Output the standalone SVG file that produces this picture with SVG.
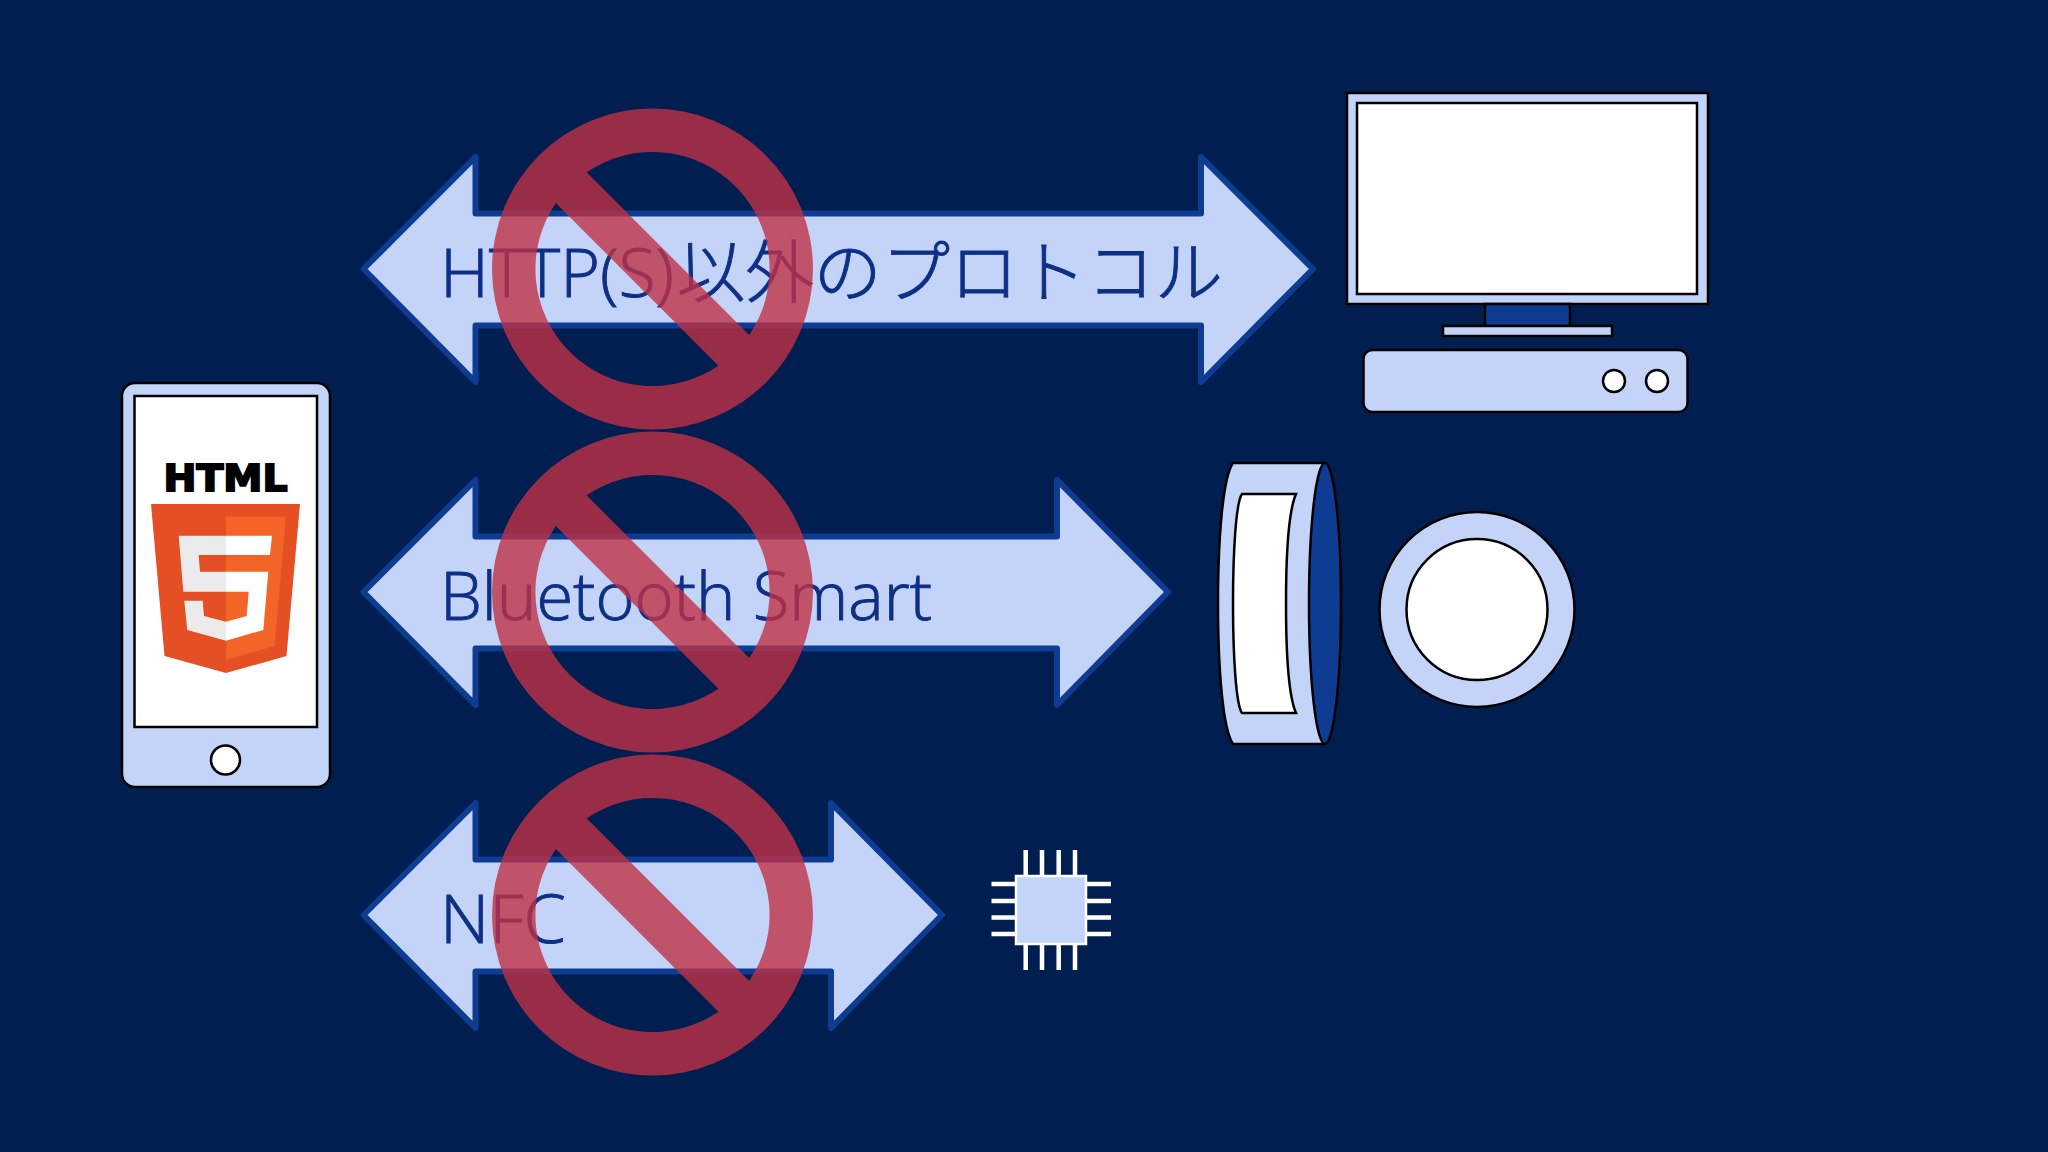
<svg xmlns="http://www.w3.org/2000/svg" width="2048" height="1152" viewBox="0 0 2048 1152">
<style>
.ar{fill:#c3d4f8;stroke:#0d3c92;stroke-width:6;stroke-linejoin:round}
.lb{font-family:"Open Sans","Noto Sans CJK JP",sans-serif;font-size:66px;font-weight:300;fill:#0e2f86;stroke:#0e2f86;stroke-width:.9}
.jp{font-family:"Noto Sans CJK JP",sans-serif;font-size:68px;font-weight:300;fill:#0e2f86;stroke:#0e2f86;stroke-width:.9}
.k{stroke:#000;stroke-width:2.5}
.l{fill:#c3d4f8}
.w{fill:#fff}
.b{fill:#0d3c92}
.pin{stroke:#fff;stroke-width:4.5;fill:none}
.no{fill:#bf3146;opacity:.8}
</style>
<defs>
<path id="no" fill-rule="evenodd" d="M160.500 0A160.500 160.500 0 1 1-160.500 0A160.500 160.500 0 1 1 160.500 0ZM-65.900 -96.700L96.700 65.900A117 117 0 0 0 -65.900 -96.700ZM-96.700 -65.900L65.900 96.700A117 117 0 0 1 -96.700 -65.900Z"/>
</defs>
<rect id="bg" width="2048" height="1152" fill="#001e50"/>
<g id="connectors">
<path id="c1" class="ar" d="M363.500 269L475.500 157V213.500H1201V157L1313 269L1201 382V325.500H475.500V382Z"/>
<path id="c2" class="ar" d="M363.500 592L475.500 480V536.500H1057V480L1168 592L1057 705V648.500H475.500V705Z"/>
<path id="c3" class="ar" d="M363.500 915L475.500 803V859.500H831V803L942 915L831 1028V971.500H475.500V1028Z"/>
<text class="lb" x="440" y="297" textLength="234" lengthAdjust="spacingAndGlyphs">HTTP(S)</text>
<text class="jp" x="677" y="297" textLength="546" lengthAdjust="spacingAndGlyphs">以外のプロトコル</text>
<text class="lb" x="440" y="620" textLength="492" lengthAdjust="spacingAndGlyphs">Bluetooth Smart</text>
<text class="lb" x="440" y="943" textLength="126" lengthAdjust="spacingAndGlyphs">NFC</text>
</g>
<g id="prohibited">
<use href="#no" class="no" x="652.500" y="269"/>
<use href="#no" class="no" x="652.500" y="592"/>
<use href="#no" class="no" x="652.500" y="915"/>
</g>
<g id="phone">
<rect class="l k" x="122" y="383" width="208" height="404" rx="13"/>
<rect class="w k" x="134.500" y="396" width="182.500" height="331"/>
<circle class="w k" cx="225.500" cy="760" r="14.500"/>
<text x="225.500" y="491" text-anchor="middle" font-family="'DejaVu Sans',sans-serif" font-weight="700" font-size="38" textLength="124" lengthAdjust="spacingAndGlyphs" fill="#000" stroke="#000" stroke-width="2">HTML</text>
<path fill="#e54f24" d="M151 504H300L286.500 656L226 673L164.500 656Z"/>
<path fill="#f26527" d="M226 516.500H286L274.500 646L226 660Z"/>
<path fill="#ebebeb" d="M178.700 535.700H226V555H198.700L200 571.700H226V591.700H183.300ZM184.300 600.700H202.700L204 616L226 621.700V640.700L187.300 630Z"/>
<path fill="#fff" d="M226 535.700H272L270 555H226ZM226 571.700H268.300L263.300 630L226 640.700V621.700L246.700 616L248.700 591.700H226Z"/>
</g>
<g id="computer">
<rect class="l k" x="1347" y="93" width="361" height="211"/>
<rect class="w k" x="1357" y="103" width="340" height="191"/>
<rect class="b k" x="1485" y="304" width="85" height="22"/>
<rect class="l k" x="1443" y="326" width="169" height="10"/>
<rect class="l k" x="1363.500" y="350" width="324" height="62" rx="9"/>
<circle class="w k" cx="1614" cy="381" r="11"/>
<circle class="w k" cx="1657" cy="381" r="11"/>
</g>
<g id="beacon">
<path class="l k" d="M1233 463H1325V744H1233C1223 730 1218 670 1218 603.500C1218 537 1223 477 1233 463Z"/>
<ellipse class="b k" cx="1325" cy="603.500" rx="16" ry="140.500"/>
<path class="w k" d="M1242 494H1296C1289 510 1286 555 1286 603.500C1286 652 1289 697 1296 713H1242C1236 705 1233 655 1233 603.500C1233 552 1236 502 1242 494Z"/>
<circle class="l k" cx="1477" cy="609.500" r="97.500"/>
<circle class="w k" cx="1477" cy="609.500" r="70.500"/>
</g>
<g id="chip">
<path class="pin" d="M1025.700 850V970M1042 850V970M1058.700 850V970M1075 850V970M991.500 884H1111M991.500 901H1111M991.500 917.500H1111M991.500 934H1111"/>
<rect class="l" x="1016" y="876" width="70" height="68" stroke="#fff" stroke-width="2.500"/>
</g>
</svg>
